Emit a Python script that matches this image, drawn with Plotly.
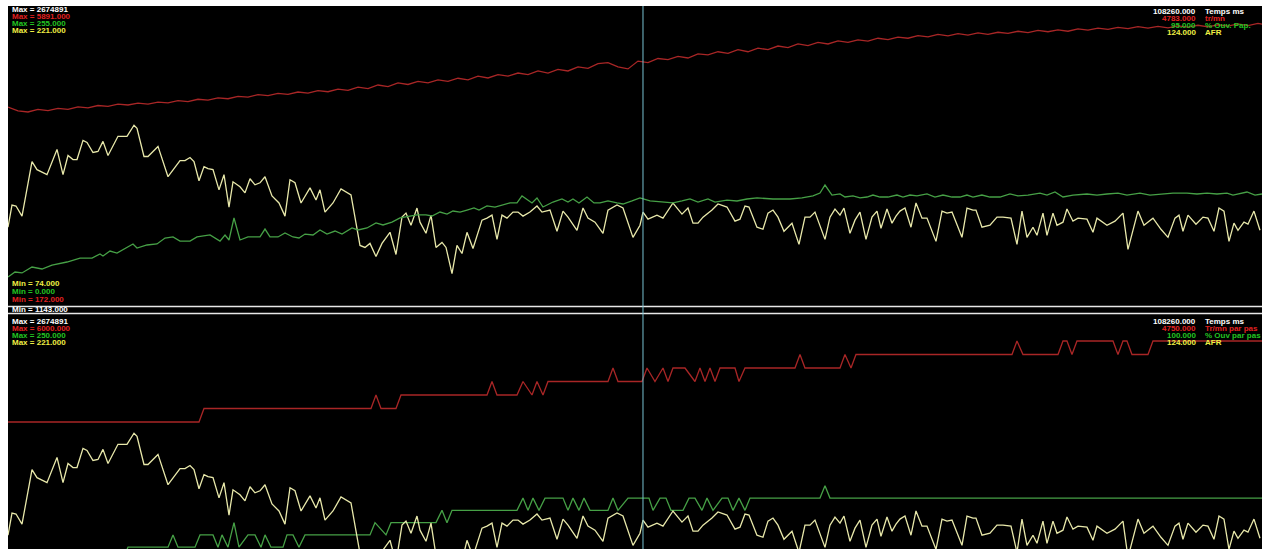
import plotly.graph_objects as go

W, H = 1262, 549

# ---------------- DATA ----------------
# AFR (same channel in both panels)
afr_t = [0, 345, 691, 1209, 2072, 2504, 3367, 4230, 4748, 5180,
         5611, 5957, 6475, 6820, 7338, 7770, 8201, 8633, 9496, 10273,
         10878, 11137, 11741, 12086, 12950, 13813, 14849, 15280, 15712, 16057,
         16489, 16921, 17266, 17698, 18216, 18647, 19079, 19424, 20029, 20460,
         20892, 21324, 21755, 22187, 22791, 23395, 23913, 24345, 24777, 25295,
         26072, 26590, 26935, 27367, 28057, 28748, 29611, 30388, 30820, 31251,
         31769, 32287, 32978, 33496, 34014, 34359, 34791, 35309, 35568, 36086,
         36518, 36949, 37467, 37813, 38331, 38762, 39194, 39625, 40143, 40920,
         41352, 41784, 42215, 42647, 43079, 43597, 44028, 44460, 45064, 45669,
         46100, 46791, 47395, 47913, 48345, 49122, 49640, 50071, 50676, 51366,
         51798, 52575, 53093, 53956, 54561, 54820, 55251, 56028, 56546, 57409,
         58186, 58704, 59136, 59568, 59999, 60776, 61294, 62071, 62762, 63194,
         63625, 63971, 64661, 65179, 65611, 66042, 66474, 66992, 67683, 68287,
         68805, 69237, 69668, 70100, 70532, 70963, 71395, 71827, 72172, 72690,
         73122, 73553, 74071, 74589, 75021, 75366, 75884, 76316, 76661, 77006,
         77438, 77956, 78388, 78906, 79337, 80114, 80632, 81064, 81496, 82359,
         82790, 83308, 83567, 84085, 84776, 85380, 85898, 86589, 87107, 87539,
         87970, 88488, 88834, 89352, 89697, 90215, 90560, 91078, 91423, 91941,
         92373, 93150, 93668, 94013, 94877, 95567, 96258, 96690, 97553, 98071,
         98848, 99538, 100143, 100747, 101092, 101438, 101869, 102560, 103164, 103596,
         104114, 104546, 104977, 105409, 105841, 106186, 106704, 107049, 107567, 108085]
afr = [111.5, 122.5, 122, 117, 144, 140, 137.5, 150, 137.5, 147,
       145, 145, 154.5, 153.5, 148.5, 149, 154, 147, 156.5, 156.5,
       162, 160.5, 146.5, 146.5, 151.5, 136.5, 144.5, 144.5, 146, 144,
       134.5, 141.5, 140.5, 140, 130, 137.5, 121.5, 134, 131.5, 128.5,
       135.5, 132.5, 133.5, 136.5, 127, 123.5, 117, 135, 133.5, 123.5,
       131, 125, 130, 119, 123.5, 130.5, 127.5, 102.5, 101.5, 103.5,
       97, 103.5, 109, 98, 116.5, 118.5, 112.5, 121, 114, 108.5,
       117.5, 101.5, 104, 101.5, 88.5, 102.5, 98.5, 109, 101, 115,
       116, 117.5, 105.5, 117.5, 116, 119, 119, 117, 119, 122,
       119, 120, 109.5, 119.5, 116.5, 110, 121, 116, 114, 108.5,
       120, 122.5, 121, 106.5, 112.5, 119, 115.5, 117.5, 116, 123.5,
       118, 121, 113.5, 113.5, 116.5, 120, 123, 121.5, 114.5, 115.5,
       122, 121.5, 111.5, 110.5, 118.5, 120, 116.5, 109.5, 113.5, 103,
       116.5, 116.5, 119, 112.5, 105.5, 116.5, 120.5, 117.5, 121, 108.5,
       115, 119, 105.5, 116.5, 119.5, 111, 120.5, 113.5, 117, 119.5,
       121, 111.5, 123.5, 116, 116, 104.5, 119.5, 118.5, 119, 106.5,
       121, 120, 120, 111.5, 112.5, 116.5, 116.5, 116, 103, 119.5,
       106.5, 111.5, 107.5, 118.5, 107.5, 118.5, 112.5, 114, 120.5, 114.5,
       116, 115.5, 109, 116, 112.5, 114.5, 118.5, 100.5, 119.5, 112.5,
       116, 110.5, 106.5, 116, 117.5, 109.5, 117.5, 113, 116.5, 116,
       109.5, 121, 119.5, 104.5, 113.5, 110, 114, 113, 119.5, 110]

# % Ouv. Pap. (throttle opening, top panel)
ouv_t = [0, 604, 1209, 2072, 2935, 3799, 5093, 6216, 7252, 7942,
         8201, 8806, 9410, 10791, 11137, 12000, 12863, 13554, 14244, 14849,
         15712, 16316, 17439, 18302, 18734, 19079, 19511, 20029, 20719, 21755,
         22187, 22618, 23309, 23913, 24604, 25122, 25640, 26331, 26935, 27539,
         28230, 28834, 29698, 30216, 30992, 31769, 32374, 33151, 33841, 34446,
         35309, 36086, 36604, 37295, 37899, 38417, 39021, 39625, 40230, 40661,
         41352, 42043, 42733, 43338, 43942, 44374, 45237, 45669, 46187, 47050,
         47827, 48345, 48776, 49294, 49985, 50589, 51107, 51798, 52575, 53093,
         53870, 54561, 55424, 56287, 57409, 58186, 58877, 59568, 60431, 61035,
         62071, 62935, 63798, 64661, 66042, 67510, 68546, 69496, 70100, 70532,
         71136, 71827, 72258, 72949, 73553, 74157, 74675, 75280, 75970, 76747,
         77265, 77870, 78474, 79337, 80028, 80719, 81496, 82186, 82790, 83308,
         84085, 84776, 85639, 86503, 87193, 88057, 89093, 89697, 90388, 91078,
         91941, 93150, 94013, 94877, 95826, 96603, 97726, 98589, 99452, 100574,
         101783, 102646, 103510, 104373, 105236, 105754, 106963, 107654, 108260]
ouv_pap = [22.3, 26.6, 25.8, 30.9, 29.2, 32.6, 35.2, 38.6, 38.6, 42.1,
           40.4, 44.6, 42.9, 50.7, 47.2, 49.8, 50.7, 55.8, 56.7, 53.2,
           53.2, 56.7, 58.4, 53.2, 58.4, 54.1, 73.0, 54.1, 56.7, 56.7,
           63.5, 56.7, 56.7, 60.1, 56.7, 55.8, 59.2, 58.4, 62.7, 59.2,
           61.8, 59.2, 64.4, 62.7, 64.4, 68.7, 67.0, 69.5, 73.0, 73.8,
           75.6, 75.6, 74.7, 78.1, 76.4, 79.0, 78.1, 79.8, 81.6, 79.8,
           83.3, 82.4, 84.1, 85.9, 85.9, 91.9, 85.9, 90.2, 82.4, 86.7,
           89.3, 86.7, 89.3, 85.9, 91.0, 85.9, 85.9, 87.6, 85.9, 85.0,
           87.6, 90.2, 87.6, 86.7, 85.9, 87.6, 89.3, 86.7, 89.3, 86.7,
           88.4, 87.6, 89.3, 90.2, 89.3, 89.3, 90.2, 91.9, 94.4, 101.3,
           92.7, 93.6, 91.0, 91.9, 90.2, 91.0, 92.7, 91.0, 91.0, 92.7,
           91.0, 92.7, 91.9, 93.6, 91.0, 92.7, 91.0, 91.0, 92.7, 91.0,
           92.7, 91.0, 91.0, 93.6, 91.9, 92.7, 94.4, 92.7, 95.3, 91.0,
           92.7, 93.6, 92.7, 93.6, 94.4, 92.7, 94.4, 92.7, 93.6, 94.4,
           94.4, 93.6, 94.4, 93.6, 94.4, 92.7, 95.3, 92.7, 93.6]

# tr/mn (engine speed, top panel)
rpm_t = [0, 863, 1727, 2590, 3453, 4317, 5180, 6043, 6906, 7770,
         8633, 9496, 10360, 11223, 12086, 12950, 13813, 14676, 15539, 16403,
         17266, 18129, 18993, 19856, 20719, 21583, 22446, 23309, 24172, 25036,
         25899, 26762, 27626, 28489, 29352, 30216, 31079, 31942, 32805, 33669,
         34532, 35395, 36259, 37122, 37985, 38849, 39712, 40575, 41438, 42302,
         43165, 44028, 44892, 45755, 46618, 47482, 48345, 49208, 50071, 50935,
         51798, 52661, 53525, 54388, 55251, 56115, 56978, 57841, 58704, 59568,
         60431, 61294, 62158, 63021, 63884, 64748, 65611, 66474, 67337, 68201,
         69064, 69927, 70791, 71654, 72517, 73381, 74244, 75107, 75970, 76834,
         77697, 78560, 79424, 80287, 81150, 82014, 82877, 83740, 84603, 85467,
         86330, 87193, 88057, 88920, 89783, 90647, 91510, 92373, 93236, 94100,
         94963, 95826, 96690, 97553, 98416, 99280, 100143, 101006, 101869, 102733,
         103596, 104459, 105323, 106186, 107049, 107913, 108260]
rpm = [3946, 3870, 3850, 3900, 3875, 3920, 3900, 3950, 3930, 3975,
       3960, 4000, 3985, 4020, 4000, 4040, 4025, 4070, 4050, 4095,
       4080, 4120, 4105, 4150, 4135, 4185, 4165, 4210, 4190, 4235,
       4215, 4260, 4240, 4290, 4265, 4330, 4300, 4370, 4340, 4410,
       4380, 4440, 4410, 4470, 4440, 4500, 4470, 4540, 4505, 4570,
       4540, 4600, 4570, 4640, 4600, 4670, 4640, 4720, 4690, 4780,
       4800, 4720, 4680, 4830, 4800, 4880, 4860, 4920, 4890, 4970,
       4950, 5010, 4980, 5050, 5010, 5080, 5050, 5120, 5090, 5160,
       5130, 5190, 5160, 5220, 5190, 5240, 5215, 5270, 5245, 5290,
       5270, 5320, 5295, 5345, 5315, 5360, 5330, 5375, 5345, 5385,
       5365, 5405, 5380, 5420, 5395, 5430, 5405, 5450, 5425, 5465,
       5440, 5480, 5455, 5495, 5465, 5500, 5470, 5510, 5485, 5520,
       5490, 5530, 5505, 5545, 5515, 5555, 5540]

# Tr/mn par pas (stepped engine speed, bottom panel)
rpm_pas_t = [0, 16489, 16921, 31337, 31769, 32201, 33496, 33928, 41352, 41784,
             42215, 43942, 44460, 45237, 45669, 46187, 46618, 51798, 52230, 52661,
             54733, 55165, 55856, 56546, 56978, 57409, 58445, 59309, 59740, 60172,
             60604, 61035, 61467, 62762, 63107, 63625, 67942, 68373, 68805, 71827,
             72258, 72776, 73208, 86675, 87107, 87625, 90647, 91078, 91423, 91855,
             92287, 95395, 95826, 96258, 96603, 97035, 98416, 98848, 108260]
rpm_pas = [4000, 4000, 4250, 4250, 4500, 4250, 4250, 4500, 4500, 4750,
           4500, 4500, 4750, 4500, 4750, 4500, 4750, 4750, 5000, 4750,
           4750, 5000, 4750, 5000, 4750, 5000, 5000, 4750, 5000, 4750,
           5000, 4750, 5000, 5000, 4750, 5000, 5000, 5250, 5000, 5000,
           5250, 5000, 5250, 5250, 5500, 5250, 5250, 5500, 5500, 5250,
           5500, 5500, 5250, 5500, 5500, 5250, 5250, 5500, 5500]

# % Ouv par pas (stepped throttle, bottom panel)
ouv_pas_t = [0, 1727, 2158, 7511, 7942, 8978, 9496, 9928, 10360, 13813,
             14244, 14676, 16144, 16575, 17698, 18129, 18475, 18993, 19511, 19942,
             20719, 21324, 21841, 22187, 22705, 23741, 24086, 24604, 25122, 25640,
             31251, 31683, 32633, 33064, 36949, 37467, 37899, 38331, 43942, 44460,
             44892, 45323, 45841, 46359, 47913, 48345, 48776, 49294, 49726, 50244,
             51798, 52230, 52661, 53525, 55338, 55683, 56287, 56805, 57237, 58273,
             58791, 59309, 59913, 60345, 60863, 61640, 62158, 62589, 63107, 63625,
             64057, 70100, 70532, 70963, 108260]
ouv_pas = [20, 20, 30, 30, 40, 40, 50, 50, 60, 60,
           70, 60, 60, 70, 70, 60, 70, 60, 80, 60,
           70, 70, 60, 70, 60, 60, 70, 70, 60, 70,
           70, 80, 70, 80, 80, 90, 80, 90, 90, 100,
           90, 100, 90, 100, 100, 90, 100, 90, 100, 90,
           90, 100, 90, 100, 100, 90, 100, 100, 90, 90,
           100, 100, 90, 100, 90, 100, 100, 90, 100, 90,
           100, 100, 110, 100, 100]

curseur_ms = 54820
temps_max = 108260

# channel scales (Min / Max shown on screen)
afr_min, afr_max = 74, 221
ouv_min, ouv_max = 0, 255
rpm_min, rpm_max = 172, 5891
rpm_pas_min, rpm_pas_max = 500, 6000
ouv_pas_min, ouv_pas_max = 8, 250

top_left = ["Max = 2674891", "Max = 5891.000", "Max = 255.000", "Max = 221.000"]
top_min = ["Min = 74.000", "Min = 0.000", "Min = 172.000", "Min = 1143.000"]
top_right_vals = ["108260.000", "4783.000", "95.000", "124.000"]
top_right_names = ["Temps ms", "tr/mn", "% Ouv. Pap.", "AFR"]
bot_left = ["Max = 2674891", "Max = 6000.000", "Max = 250.000", "Max = 221.000"]
bot_right_vals = ["108260.000", "4750.000", "100.000", "124.000"]
bot_right_names = ["Temps ms", "Tr/mn par pas", "% Ouv par pas", "AFR"]

# ---------------- STYLE ----------------
C_WHITE = "#ffffff"
C_RED_T = "#e02020"
C_GRN_T = "#22c422"
C_YEL_T = "#eeee44"
C_RED = "#a82626"
C_GRN = "#46a046"
C_YEL = "#e8e8aa"
C_CUR = "#78c2d2"
FONT = "Liberation Sans, Arial, sans-serif"


def py(y):
    return 1 - y / H


def px(x):
    return x / W


top_dom = [py(303), py(6)]
bot_dom = [0, py(314)]
vis = (H - 314) / 297.0


def brange(lo, hi):
    return [hi - (hi - lo) * vis, hi]


fig = go.Figure()
ln = dict(width=1.3)
fig.add_trace(go.Scatter(x=ouv_t, y=ouv_pap, mode="lines", line=dict(color=C_GRN, **ln), xaxis="x", yaxis="y2"))
fig.add_trace(go.Scatter(x=afr_t, y=afr, mode="lines", line=dict(color=C_YEL, **ln), xaxis="x", yaxis="y"))
fig.add_trace(go.Scatter(x=rpm_t, y=rpm, mode="lines", line=dict(color=C_RED, **ln), xaxis="x", yaxis="y3"))

fig.add_trace(go.Scatter(x=ouv_pas_t, y=ouv_pas, mode="lines", line=dict(color=C_GRN, **ln), xaxis="x2", yaxis="y5"))
fig.add_trace(go.Scatter(x=afr_t, y=afr, mode="lines", line=dict(color=C_YEL, **ln), xaxis="x2", yaxis="y6"))
fig.add_trace(go.Scatter(x=rpm_pas_t, y=rpm_pas, mode="lines", line=dict(color=C_RED, **ln), xaxis="x2", yaxis="y4"))

hid = dict(visible=False, showgrid=False, zeroline=False, fixedrange=True)
xdom = [px(8), 1]
fig.update_layout(
    width=W, height=H,
    margin=dict(l=0, r=0, t=0, b=0),
    paper_bgcolor="white", plot_bgcolor="black",
    showlegend=False,
    xaxis=dict(domain=xdom, range=[0, temps_max], anchor="y", **hid),
    xaxis2=dict(domain=xdom, range=[0, temps_max], anchor="y4", **hid),
    yaxis=dict(domain=top_dom, range=[afr_min, afr_max], anchor="x", **hid),
    yaxis2=dict(overlaying="y", range=[ouv_min, ouv_max], anchor="x", **hid),
    yaxis3=dict(overlaying="y", range=[rpm_min, rpm_max], anchor="x", **hid),
    yaxis4=dict(domain=bot_dom, range=brange(rpm_pas_min, rpm_pas_max), anchor="x2", **hid),
    yaxis5=dict(overlaying="y4", range=brange(ouv_pas_min, ouv_pas_max), anchor="x2", **hid),
    yaxis6=dict(overlaying="y4", range=brange(afr_min, afr_max), anchor="x2", **hid),
)

shapes = [
    dict(type="rect", xref="paper", yref="paper", x0=px(8), x1=1, y0=0, y1=py(6),
         fillcolor="black", line=dict(width=0), layer="below"),
    dict(type="line", xref="paper", yref="paper", x0=px(8), x1=1, y0=py(306.5), y1=py(306.5),
         line=dict(color="#e8e8e8", width=1.5)),
    dict(type="line", xref="paper", yref="paper", x0=px(8), x1=1, y0=py(313.5), y1=py(313.5),
         line=dict(color="#e8e8e8", width=1.5)),
    dict(type="line", xref="x", yref="paper", x0=curseur_ms, x1=curseur_ms, y0=0, y1=py(6),
         line=dict(color=C_CUR, width=1)),
]
fig.update_layout(shapes=shapes)

cols = [C_WHITE, C_RED_T, C_GRN_T, C_YEL_T]
ann = []


def lbl(x, y, text, color, xanchor="left"):
    ann.append(dict(xref="paper", yref="paper", x=px(x), y=py(y), text="<b>" + text + "</b>",
                    showarrow=False, xanchor=xanchor, yanchor="middle",
                    font=dict(family=FONT, size=8, color=color)))


for i, (t, c) in enumerate(zip(top_left, cols)):
    lbl(10, 10 + i * 6.8, t, c)
for i, (t, c) in enumerate(zip(top_right_vals, cols)):
    lbl(1198, 11.5 + i * 7.1, t, c, "right")
for i, (t, c) in enumerate(zip(top_right_names, cols)):
    lbl(1203, 11.5 + i * 7.1, t, c)
min_cols = [C_YEL_T, C_GRN_T, C_RED_T, C_WHITE]
for t, c, y in zip(top_min, min_cols, [283, 291, 299, 309.8]):
    lbl(10, y, t, c)
for i, (t, c) in enumerate(zip(bot_left, cols)):
    lbl(10, 321.3 + i * 6.9, t, c)
for i, (t, c) in enumerate(zip(bot_right_vals, cols)):
    lbl(1198, 321.3 + i * 7.2, t, c, "right")
for i, (t, c) in enumerate(zip(bot_right_names, cols)):
    lbl(1203, 321.3 + i * 7.2, t, c)

fig.update_layout(annotations=ann)
fig.write_html("out.html",
               config={"displayModeBar": False, "staticPlot": True},
               post_script="document.body.style.margin='0';document.body.style.padding='0';")
